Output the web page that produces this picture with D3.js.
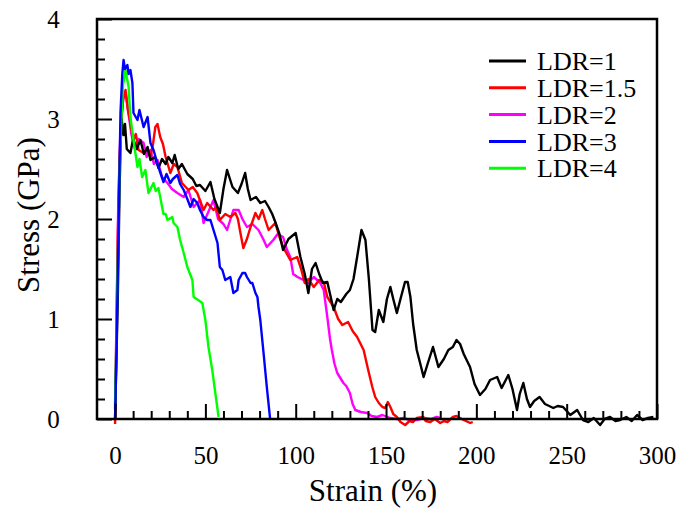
<!DOCTYPE html>
<html>
<head>
<meta charset="utf-8">
<script src="https://cdn.jsdelivr.net/npm/d3@7"></script>
<style>
  body { margin: 0; background: #fff; }
</style>
</head>
<body>
<div id="chart"></div>
<script>
// strain (%), stress (GPa)
var ldr1 = [[0,0],[1.5,1.2],[2.5,2.3],[3,2.7],[3.6,3.0],[4.7,2.84],[5.5,2.95],[6.5,2.7],[8.5,2.66],[10,2.8],[12,2.7],[14,2.79],[16,2.65],[18,2.72],[19.6,2.59],[22,2.62],[24,2.51],[26,2.6],[28,2.55],[29.5,2.62],[31.7,2.56],[33,2.64],[35,2.5],[37,2.55],[40,2.45],[43,2.4],[45,2.33],[47,2.34],[50,2.28],[52.8,2.37],[55,2.2],[58,2.06],[60,2.3],[62,2.49],[65,2.32],[68,2.26],[70,2.35],[72,2.46],[73.5,2.3],[75,2.19],[78,2.22],[80.4,2.16],[83,2.18],[85,2.12],[87,2.05],[88.7,1.97],[91,1.85],[93,1.69],[96,1.8],[100,1.86],[102.6,1.62],[105,1.45],[107,1.26],[109,1.5],[111,1.56],[113,1.45],[115,1.36],[117.5,1.37],[119,1.25],[121,1.09],[123,1.2],[125,1.17],[128,1.25],[130,1.29],[132,1.4],[134,1.62],[136.4,1.89],[138.6,1.79],[140.5,1.4],[142.5,0.89],[144,0.87],[146,1.09],[148.5,0.97],[150.5,1.2],[152.4,1.32],[154,1.2],[156,1.06],[158,1.2],[160.5,1.37],[162,1.37],[163.5,1.22],[165,0.95],[167,0.69],[169,0.55],[170.8,0.42],[173,0.55],[176,0.72],[179,0.52],[182,0.6],[184.5,0.69],[187,0.72],[189,0.79],[191,0.75],[193,0.65],[196.5,0.52],[199,0.35],[202,0.24],[205,0.3],[207.6,0.39],[211.5,0.42],[214,0.31],[217.7,0.44],[220,0.3],[222.5,0.09],[224,0.25],[226,0.36],[228,0.2],[229.7,0.12],[232,0.18],[235,0.22],[238,0.15],[242.6,0.11],[245,0.13],[248,0.12],[252,0.04],[255.8,0.09],[259,-0.01],[262,-0.03],[265,0.01],[268.5,-0.06],[271,0],[274,0.02],[277,-0.02],[279.6,-0.01],[283,0.02],[286,-0.02],[289,0.04],[292,-0.01],[295,0.01],[298,0.02]];
var ldr15 = [[0,-0.05],[0.5,0.5],[1.5,1.8],[2.5,2.6],[3.5,3.0],[4.5,3.2],[5.8,3.29],[7,3.1],[8.5,2.96],[10,2.79],[11.5,2.85],[13,2.69],[15.8,2.66],[17.5,2.7],[19.6,2.62],[21,2.75],[22.3,2.92],[23.5,2.95],[25,2.82],[26.5,2.75],[28,2.62],[30.6,2.46],[32.5,2.55],[34.5,2.52],[37,2.36],[40.6,2.29],[43,2.32],[45.5,2.26],[49,2.09],[51,2.16],[54.5,2.09],[56,2.12],[58,1.99],[61,2.05],[63.8,2.02],[66.6,2.06],[68,2.0],[69.4,1.86],[71,1.71],[73,1.8],[75,1.92],[77.7,2.06],[79.5,2.0],[81.5,2.09],[83,2.0],[85,1.89],[88.7,1.96],[91,1.82],[93,1.72],[97,1.59],[100.8,1.62],[103,1.5],[105,1.36],[107,1.4],[110,1.32],[113,1.39],[115.5,1.37],[117.5,1.22],[121,1.12],[123.5,1.0],[125.8,0.94],[129,0.97],[131.5,0.88],[134,0.82],[137.6,0.69],[140,0.5],[142.4,0.32],[144,0.22],[146,0.16],[148,0.12],[149.6,0.11],[151,0.17],[152.4,0.12],[154,0.05],[156,0.02],[158,-0.03],[160.6,-0.06],[163,-0.02],[165,-0.03],[167,0.01],[170.6,0.02],[172,-0.02],[174.5,-0.03],[177,0],[180,-0.04],[182,-0.02],[184,-0.03],[187,0.02],[189,0.03],[191,0.01],[193,-0.01],[196.6,-0.04],[198,-0.03]];
var ldr2 = [[0,0.1],[0.8,1.0],[1.8,2.2],[3,2.9],[4.5,3.2],[6,3.25],[7.5,3.05],[9,2.85],[11,2.7],[13,2.8],[15.8,2.76],[17.5,2.62],[19.6,2.69],[21.5,2.55],[23.5,2.59],[26,2.42],[29,2.36],[31.5,2.3],[34.5,2.26],[38,2.22],[40.6,2.29],[43.5,2.12],[47,2.19],[49,1.96],[52.8,2.12],[54.5,2.19],[57,2.0],[60,1.95],[62,1.89],[65.5,2.09],[68.4,2.09],[70.5,2.0],[73,1.92],[76,1.95],[79.4,1.89],[82,1.8],[84,1.72],[87.6,1.79],[90,1.85],[93,1.82],[95,1.7],[97,1.62],[98.6,1.45],[101,1.42],[104.3,1.39],[107,1.36],[110,1.42],[113.6,1.36],[115.5,1.29],[117.5,1.02],[119,0.8],[120,0.69],[121.5,0.55],[123,0.46],[126.4,0.36],[128,0.33],[130,0.26],[131.5,0.15],[133,0.09],[136,0.07],[139.6,0.06],[142,0.03],[145,0.02],[148,0.04],[152.4,0.01],[156,0.0],[159.6,0.01],[163,-0.01],[167,-0.01],[171,0.01],[175,0.0],[178,0.02],[180,0.01]];
var ldr3 = [[0,0],[1,0.9],[2,2.0],[3,3.06],[4,3.45],[4.7,3.59],[5.5,3.5],[6.8,3.54],[7.5,3.45],[8.5,3.49],[9.6,3.36],[10.2,3.06],[12.4,2.99],[13.5,3.09],[15.8,2.92],[18,3.02],[19.6,2.76],[21.3,2.69],[24,2.52],[26.8,2.37],[28.5,2.45],[30.6,2.36],[32,2.4],[34.5,2.44],[36,2.35],[38,2.29],[40,2.2],[41.7,2.12],[43.5,2.2],[45.5,2.16],[47,2.09],[49,2.02],[51,1.99],[52.8,1.99],[54.5,1.89],[56.7,1.76],[58,1.52],[59.4,1.49],[61,1.39],[63.8,1.42],[65.5,1.26],[67.7,1.29],[68.4,1.39],[70.5,1.46],[72,1.46],[73,1.42],[75,1.36],[76,1.36],[77.7,1.26],[78.8,1.22],[79.4,1.12],[80.4,0.99],[82.2,0.66],[84,0.32],[85.9,-0.01]];
var ldr4 = [[0,0.16],[0.5,0.6],[1.5,1.6],[2.5,2.5],[3.5,3.0],[4.5,3.35],[5.8,3.49],[7.5,3.32],[8.5,3.02],[10.2,2.79],[12.4,2.52],[13.5,2.6],[15,2.42],[16.8,2.49],[18.5,2.26],[21.3,2.36],[22.5,2.28],[24,2.31],[26.8,2.05],[28,2.05],[29,1.99],[31.7,2.02],[32.4,1.96],[34.5,1.92],[36,1.79],[38,1.66],[40,1.52],[42.8,1.39],[43.5,1.22],[46,1.19],[48.3,1.16],[50,0.99],[51.7,0.72],[53.8,0.49],[55.5,0.26],[57.3,0.02]];

var seriesNames = ["LDR=1", "LDR=1.5", "LDR=2", "LDR=3", "LDR=4"];
var seriesColors = ["#000000", "#ff0000", "#ff00ff", "#0000ff", "#00ff00"];
var seriesData = [ldr1, ldr15, ldr2, ldr3, ldr4];
var xTicks = [0, 50, 100, 150, 200, 250, 300];
var yTicks = [0, 1, 2, 3, 4];

var FONT = "'Liberation Serif', 'Times New Roman', 'DejaVu Serif', serif";
var W = 680, H = 511;
var margin = {top: 19, right: 23, bottom: 92, left: 97};
var w = W - margin.left - margin.right,
    h = H - margin.top - margin.bottom;

var svg = d3.select("#chart").append("svg")
  .attr("width", W)
  .attr("height", H)
  .attr("font-family", FONT);
var g = svg.append("g")
  .attr("transform", "translate(" + margin.left + "," + margin.top + ")");

var x = d3.scaleLinear().domain([-10, 300]).range([0, w]);
var y = d3.scaleLinear().domain([0, 4]).range([h, 0]);

// curves
var line = d3.line().x(function(d){ return x(d[0]); }).y(function(d){ return y(d[1]); });
var drawOrder = [2, 1, 0, 4, 3];
drawOrder.forEach(function(i){
  g.append("path")
    .datum(seriesData[i])
    .attr("fill", "none")
    .attr("stroke", seriesColors[i])
    .attr("stroke-width", 2.4)
    .attr("stroke-linejoin", "round")
    .attr("d", line);
});

// minor ticks (inward)
var xMinor = d3.range(0, 301, 10).filter(function(v){ return v % 50 != 0; });
var yMinor = d3.range(0, 4.01, 0.2).filter(function(v){ return Math.abs(v - Math.round(v)) > 0.01; });

var xAxis = d3.axisBottom(x).tickValues(xTicks).tickSize(-15).tickPadding(27).tickFormat(d3.format("d"));
var yAxis = d3.axisLeft(y).tickValues(yTicks).tickSize(-15).tickPadding(36).tickFormat(d3.format("d"));

var gx = g.append("g").attr("transform", "translate(0," + h + ")").call(xAxis);
var gy = g.append("g").call(yAxis);
g.append("g").attr("transform", "translate(0," + h + ")")
  .call(d3.axisBottom(x).tickValues(xMinor).tickSize(-8).tickFormat(""));
g.append("g")
  .call(d3.axisLeft(y).tickValues(yMinor).tickSize(-8).tickFormat(""));

g.selectAll(".domain").remove();
g.selectAll("g").attr("font-family", FONT);
g.selectAll(".tick line").attr("stroke", "#000").attr("stroke-width", 2);
gx.selectAll("text").attr("font-size", 25).style("font-family", FONT).attr("fill", "#000");
gy.selectAll("text").attr("font-size", 25).style("font-family", FONT).attr("fill", "#000")
  .attr("text-anchor", "middle").attr("dx", "-0.3em");

// frame
g.append("rect")
  .attr("x", 0).attr("y", 0)
  .attr("width", w).attr("height", h)
  .attr("fill", "none")
  .attr("stroke", "#000")
  .attr("stroke-width", 2.5);

// axis titles
svg.append("text")
  .attr("x", margin.left + w / 2 - 4)
  .attr("y", 501)
  .attr("text-anchor", "middle")
  .attr("font-size", 31)
  .style("font-family", FONT)
  .text("Strain (%)");
svg.append("text")
  .attr("transform", "translate(39," + (margin.top + h / 2 - 4) + ") rotate(-90)")
  .attr("text-anchor", "middle")
  .attr("font-size", 31)
  .style("font-family", FONT)
  .text("Stress (GPa)");

// legend
var legend = svg.append("g");
seriesNames.forEach(function(name, i){
  var ly = 61 + i * 26.8;
  legend.append("line")
    .attr("x1", 489).attr("x2", 526)
    .attr("y1", ly).attr("y2", ly)
    .attr("stroke", seriesColors[i])
    .attr("stroke-width", 3);
  legend.append("text")
    .attr("x", 537).attr("y", ly)
    .attr("dy", "0.35em")
    .attr("font-size", 26)
    .style("font-family", FONT)
    .text(name);
});
</script>
</body>
</html>
